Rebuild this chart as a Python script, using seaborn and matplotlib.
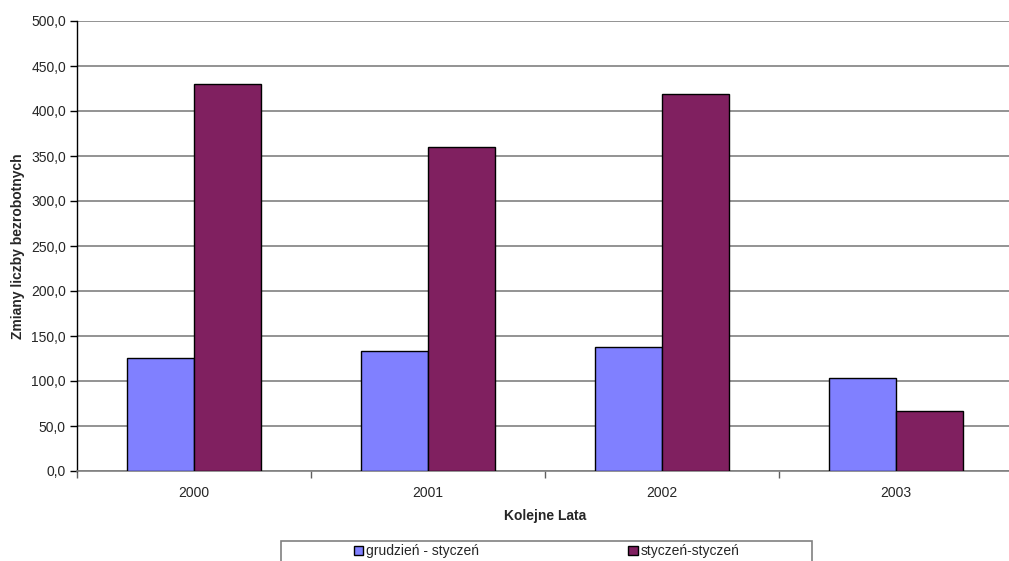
import matplotlib
matplotlib.use('Agg')
import matplotlib.pyplot as plt
import matplotlib.ticker as mticker
from matplotlib.patches import Rectangle
import seaborn as sns
import pandas as pd

years = ['2000', '2001', '2002', '2003']
grudzien_styczen = [126.0, 133.0, 138.0, 103.5]
styczen_styczen = [430.0, 360.0, 419.0, 67.0]
series_names = ['grudzień - styczeń', 'styczeń-styczeń']
y_ticks = [0, 50, 100, 150, 200, 250, 300, 350, 400, 450, 500]

df = pd.DataFrame({
    'rok': years * 2,
    'wartosc': grudzien_styczen + styczen_styczen,
    'seria': [series_names[0]] * 4 + [series_names[1]] * 4,
})

sns.set_theme(style='white')
plt.rcParams['font.family'] = ['Liberation Sans', 'DejaVu Sans']

W, H = 1009, 561
fig = plt.figure(figsize=(W / 100, H / 100), dpi=100)
ax = fig.add_axes([77 / W, (H - 471) / H, 936 / W, 450 / H])

sns.barplot(data=df, x='rok', y='wartosc', hue='seria',
            palette=['#8080FF', '#802060'], width=0.575,
            edgecolor='black', linewidth=1.0, saturation=1,
            legend=False, ax=ax, zorder=3)

ax.set_xlim(-0.5, 3.5)
ax.set_ylim(0, 500)
ax.set_yticks(y_ticks)
ax.yaxis.set_major_formatter(mticker.FuncFormatter(lambda v, p: f'{v:.1f}'.replace('.', ',')))
ax.grid(axis='y', color='#808080', linewidth=1.2, zorder=0)
ax.set_axisbelow(True)

for s in ['top', 'right']:
    ax.spines[s].set_visible(False)
ax.spines['left'].set_color('black')
ax.spines['left'].set_linewidth(1.0)
ax.spines['bottom'].set_color('#808080')
ax.spines['bottom'].set_linewidth(1.2)

ax.tick_params(axis='y', which='major', direction='out', length=5, width=1,
               color='black', labelsize=10, pad=3, left=True)
ax.tick_params(axis='x', which='major', length=0, labelsize=10, pad=11)
ax.set_xticks([-0.5, 0.5, 1.5, 2.5, 3.5], minor=True)
ax.tick_params(axis='x', which='minor', direction='out', length=5, width=1,
               color='#606060', bottom=True)

ax.set_ylabel('Zmiany liczby bezrobotnych', fontsize=10, fontweight='bold', labelpad=4)
ax.set_xlabel('Kolejne Lata', fontsize=10, fontweight='bold', labelpad=6)

handles = [Rectangle((0, 0), 1, 1, facecolor=c, edgecolor='black', linewidth=1)
           for c in ['#8080FF', '#802060']]
fig.legend(handles, series_names, ncol=2, loc='upper center',
           bbox_to_anchor=(546.5 / W, (H - 541) / H), frameon=False,
           fontsize=10, handlelength=0.7, handleheight=0.7, handletextpad=0.2,
           columnspacing=10.7, borderaxespad=0, borderpad=0.25)
fig.patches.append(Rectangle((281 / W, -0.05), 531 / W, 0.05 + (H - 541) / H,
                             transform=fig.transFigure, facecolor='none',
                             edgecolor='#808080', linewidth=1.2))

fig.savefig('out.png', dpi=100)
